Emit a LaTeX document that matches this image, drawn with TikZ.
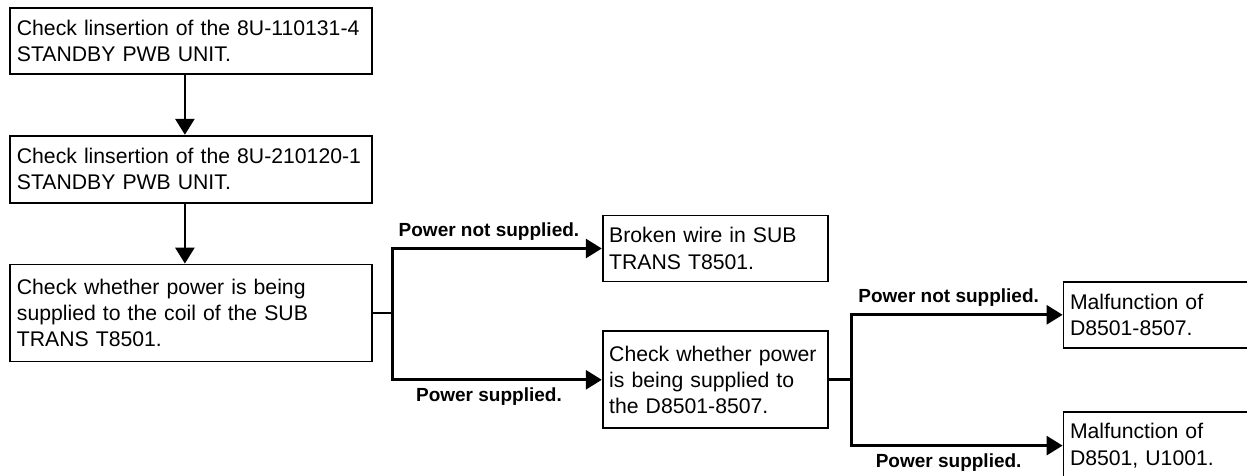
\documentclass[tikz,border=0pt]{standalone}
\usepackage{fontspec}
\setmainfont{Liberation Sans}
\usetikzlibrary{
  arrows.meta,
  positioning
}

\begin{document}
\begin{tikzpicture}[
  node distance=30pt,
  box/.style={rectangle, draw, line width=0.9pt, align=left,
              font=\fontsize{10.6}{13.1}\selectfont},
  wide/.style={box, text width=174pt, inner xsep=3.5pt},
  narrow/.style={box, text width=106pt, inner xsep=3.25pt},
  arr/.style={-{Triangle[length=8pt, width=9.5pt]}, line width=1.4pt},
  link/.style={line width=1.4pt},
  lbl/.style={font=\fontsize{9.5}{11}\selectfont\bfseries}
]
\useasboundingbox (0,0) rectangle (623.5pt,-238pt);

\node[wide, minimum height=33pt, anchor=north west] (ins1) at (4.5pt,-3.5pt)
      {Check linsertion of the 8U-110131-4\\ STANDBY PWB UNIT.};

\node[wide, minimum height=33.5pt, below=30pt of ins1] (ins2)
      {Check linsertion of the 8U-210120-1\\ STANDBY PWB UNIT.};

\node[wide, minimum height=48.5pt, below=30pt of ins2] (coil)
      {Check whether power is being\\ supplied to the coil of the SUB\\ TRANS T8501.};

\node[narrow, minimum height=33pt,
      right=114.5pt of coil, yshift=32.25pt]        (wire)
      {Broken wire in SUB\\ TRANS T8501.};

\node[narrow, minimum height=48.5pt,
      below=24pt of wire]                           (diode)
      {Check whether power\\ is being supplied to\\ the D8501-8507.};

\node[narrow, minimum height=33pt,
      right=117pt of diode, yshift=32.5pt]          (fault1)
      {Malfunction of\\ D8501-8507.};

\node[narrow, minimum height=34pt,
      below=31pt of fault1]                         (fault2)
      {Malfunction of\\ D8501, U1001.};

\coordinate[right=10pt of coil.east]   (j1);
\coordinate[right=11.5pt of diode.east] (j2);

\draw[arr] ([xshift=-3pt]ins1.south) -- ([xshift=-3pt]ins2.north);
\draw[arr] ([xshift=-3pt]ins2.south) -- ([xshift=-3pt]coil.north);

\draw[link] (coil.east) -- (j1);
\draw[arr] (j1) |- (wire.west)
           node[lbl, above, pos=0.73]{Power not supplied.};
\draw[arr] (j1) |- (diode.west)
           node[lbl, below, pos=0.73]{Power supplied.};

\draw[link] (diode.east) -- (j2);
\draw[arr] (j2) |- (fault1.west)
           node[lbl, above, pos=0.73]{Power not supplied.};
\draw[arr] (j2) |- (fault2.west)
           node[lbl, below, pos=0.73]{Power supplied.};

\end{tikzpicture}
\end{document}
